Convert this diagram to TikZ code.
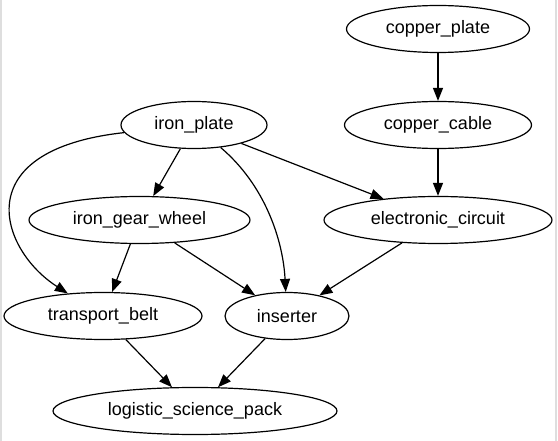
\documentclass[tikz,border=0pt]{standalone}
\usepackage{fontspec}
\setmainfont{Liberation Sans}
\usepackage{tikz}
\usetikzlibrary{arrows.meta}
\usetikzlibrary{shapes.geometric}
\tikzset{>={Triangle[length=13pt,width=10pt]}}
\definecolor{frameGray}{rgb}{0.87,0.87,0.87}
\tikzset{item/.style={ellipse,draw,line width=1.2pt,inner sep=0pt,minimum height=47pt,font=\fontsize{18}{22}\selectfont}}
\tikzset{link/.style={->,line width=1.2pt}}

\begin{document}
\begin{tikzpicture}[x=1pt,y=-1pt]

\useasboundingbox (0,0) rectangle (558,441);
\draw [frameGray, line width=2pt] (1,0) -- (1,441);
\draw [frameGray, line width=2pt] (556,0) -- (556,441);

\node (cplate) at (438,29) [item,minimum width=183pt] {copper\_plate};
\node (ccable) at (438,125) [item,minimum width=187pt] {copper\_cable};
\node (iplate) at (194,125) [item,minimum width=146pt] {iron\_plate};
\node (gear) at (139.5,220) [item,minimum width=221pt] {iron\_gear\_wheel};
\node (circuit) at (438,220) [item,minimum width=228pt] {electronic\_circuit};
\node (belt) at (103,316) [item,minimum width=198pt] {transport\_belt};
\node (inserter) at (287,316) [item,minimum width=124pt] {inserter};
\node (pack) at (195,411) [item,minimum width=284pt] {logistic\_science\_pack};

\draw [link] (cplate) -- (ccable);
\draw [link] (ccable) -- (circuit);
\draw [link] (iplate) -- (gear);
\draw [link] (iplate) -- (circuit);
\draw [link] (iplate) .. controls (-35,150) and (0,250) .. (belt);
\draw [link] (iplate) .. controls (265,185) and (283,240) .. (inserter);
\draw [link] (gear) -- (belt);
\draw [link] (gear) -- (inserter);
\draw [link] (circuit) -- (inserter);
\draw [link] (belt) -- (pack);
\draw [link] (inserter) -- (pack);

\end{tikzpicture}
\end{document}
